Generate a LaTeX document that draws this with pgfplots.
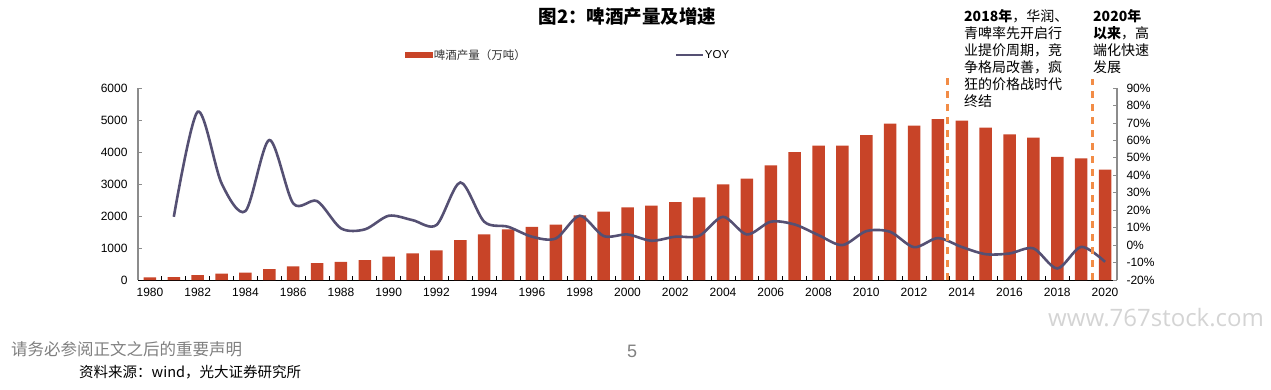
\documentclass[border=0pt]{standalone}
\usepackage{pgfplots}
\usepackage{pgfplotstable}
\pgfplotsset{compat=1.18}
\usepackage{fontspec}
\setmainfont{Liberation Sans}
\newfontfamily\cjk{Noto Sans CJK SC}
\newfontfamily\wm{Open Sans}
\definecolor{barcol}{RGB}{200,68,40}
\definecolor{linecol}{RGB}{85,80,115}
\definecolor{dashcol}{RGB}{242,140,70}
\definecolor{footgray}{RGB}{128,128,128}
\definecolor{wmgray}{RGB}{212,212,212}
\definecolor{axgray}{RGB}{140,140,140}

\pgfplotstableread{
year prod
1980 80
1981 90
1982 150
1983 200
1984 230
1985 340
1986 425
1987 530
1988 570
1989 620
1990 730
1991 830
1992 925
1993 1250
1994 1425
1995 1580
1996 1660
1997 1728
1998 2020
1999 2135
2000 2270
2001 2323
2002 2437
2003 2583
2004 2990
2005 3167
2006 3583
2007 4000
2008 4198
2009 4198
2010 4531
2011 4885
2012 4823
2013 5031
2014 4979
2015 4760
2016 4552
2017 4448
2018 3844
2019 3802
2020 3447
}\prodtable

\pgfplotstableread{
year yoy
1981 16.2
1982 76.4
1983 35.4
1984 19.5
1985 60.2
1986 23.9
1987 25.2
1988 9.6
1989 9.0
1990 16.8
1991 14.3
1992 11.5
1993 35.9
1994 13.4
1995 10.5
1996 4.8
1997 3.8
1998 16.8
1999 5.2
2000 6.1
2001 2.5
2002 4.8
2003 5.3
2004 16.2
2005 6.1
2006 13.4
2007 11.8
2008 5.7
2009 0.0
2010 8.0
2011 7.6
2012 -1.2
2013 4.0
2014 -1.1
2015 -5.2
2016 -4.8
2017 -1.9
2018 -13.4
2019 -1.0
2020 -9.6
}\yoytable

\pgfplotsset{
  common/.style={
    at={(138pt,109pt)}, anchor=south west,
    scale only axis, width=979pt, height=192pt,
    xmin=1979.5, xmax=2020.5,
    /pgf/number format/assume math mode=true,
    /pgf/number format/1000 sep={},
    tick align=inside,
    ticklabel style={font=\fontsize{12}{14}\selectfont},
  }
}

\begin{document}
\begin{tikzpicture}[x=1pt,y=1pt]
\useasboundingbox (0,0) rectangle (1271,389);

\begin{axis}[common,
  ymin=0, ymax=6000,
  axis y line*=left, axis x line*=bottom,
  x axis line style={-, black, line width=1pt},
  y axis line style={-, axgray, line width=1.1pt},
  ytick={0,1000,...,6000},
  xtick={1980,1982,...,2020},
  minor xtick={1980.5,1981.5,...,2019.5},
  major x tick style={draw=none},
  minor x tick style={black, line width=0.8pt},
  minor tick length=4pt,
  major y tick style={axgray, line width=0.8pt},
  major tick length=4pt,
  yticklabel style={xshift=-7pt},
  xticklabel style={yshift=-5pt},
  clip=false,
  legend style={at={(axis description cs:0.2727,1.1719)}, anchor=west,
    draw=none, fill=none, inner sep=0pt, outer sep=0pt,
    font=\fontsize{11.5}{13}\selectfont,
    nodes={inner sep=1pt, text=black!80}},
]
\addplot[ybar, bar width=12.5pt, fill=barcol, draw=none,
  legend image code/.code={\fill[barcol] (0pt,-3pt) rectangle (28pt,3pt);}]
  table[x=year, y=prod] {\prodtable};
\addlegendentry{\cjk 啤酒产量（万吨）}
\end{axis}

\begin{axis}[common,
  ymin=-20, ymax=90,
  axis y line*=right, axis x line=none,
  y axis line style={-, axgray, line width=1.1pt},
  ytick={-20,-10,...,90},
  yticklabel={\pgfmathprintnumber{\tick}\%},
  major y tick style={axgray, line width=0.8pt},
  major tick length=4pt,
  yticklabel style={xshift=6pt},
  clip=false,
  legend style={at={(axis description cs:0.5485,1.1719)}, anchor=west,
    draw=none, fill=none, inner sep=0pt, outer sep=0pt,
    font=\fontsize{11.5}{13}\selectfont,
    nodes={inner sep=1pt, text=black}},
]
\addplot[linecol, line width=2.6pt, smooth, no markers,
  legend image code/.code={\draw[linecol, line width=2pt] (0pt,0pt) -- (27pt,0pt);}]
  table[x=year, y=yoy] {\yoytable};
\addlegendentry{YOY}
\draw[dashcol, line width=2.6pt, dash pattern=on 7pt off 6pt] (axis cs:2013.4,-20) -- (axis cs:2013.4,98.6);
\draw[dashcol, line width=2.6pt, dash pattern=on 7pt off 6pt] (axis cs:2019.47,-20) -- (axis cs:2019.47,95.2);
\end{axis}

% title
\node[font=\cjk\bfseries\fontsize{18.5}{20}\selectfont] at (627.5,372) {图2：啤酒产量及增速};

% annotations
\node[anchor=north west, align=left, inner sep=0pt, font=\cjk\fontsize{14}{17.1}\selectfont] at (964,380)
  {\textbf{2018年}，华润、\\青啤率先开启行\\业提价周期，竞\\争格局改善，疯\\狂的价格战时代\\终结};
\node[anchor=north west, align=left, inner sep=0pt, font=\cjk\fontsize{14}{17.1}\selectfont] at (1093,380)
  {\textbf{2020年}\\\textbf{以来}，高\\端化快速\\发展};

% footer
\node[anchor=west, inner sep=0pt, text=footgray, font=\cjk\fontsize{16.5}{18}\selectfont] at (11,40) {请务必参阅正文之后的重要声明};
\node[text=footgray, inner sep=0pt, font=\fontsize{18}{20}\selectfont] at (632,37.5) {5};
\node[anchor=west, inner sep=0pt, font=\cjk\fontsize{14.5}{16}\selectfont] at (79,17) {资料来源：wind，光大证券研究所};
\node[anchor=west, inner sep=0pt, text=wmgray, font=\wm\fontsize{24}{26}\selectfont] at (1048,71) {www.767stock.com};
\end{tikzpicture}
\end{document}
